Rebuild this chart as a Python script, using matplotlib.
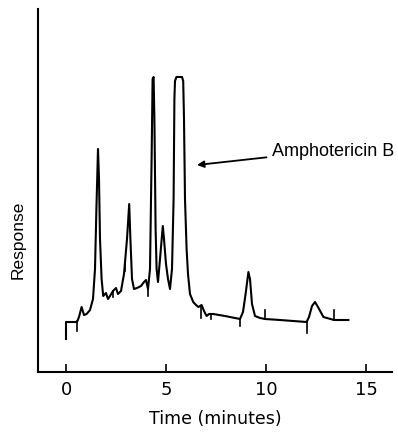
import numpy as np
import matplotlib
matplotlib.use("Agg")
import matplotlib.pyplot as plt

# chromatogram trace (time in minutes, response in arbitrary units)
times = [0.0, 0.0, 0.55, 0.65, 0.78, 0.90, 1.03, 1.20, 1.35, 1.45, 1.52, 1.60, 1.65,
         1.70, 1.78, 1.86, 2.00, 2.10, 2.20, 2.35, 2.50, 2.60, 2.75, 2.90, 3.05, 3.16,
         3.22, 3.30, 3.40, 3.55, 3.75, 3.90, 4.00, 4.10, 4.20, 4.28, 4.33, 4.38, 4.42,
         4.48, 4.53, 4.60, 4.70, 4.84, 4.90, 5.00, 5.10, 5.20, 5.30, 5.38, 5.42, 5.45,
         5.52, 5.80, 5.86, 5.90, 5.95, 6.03, 6.10, 6.20, 6.36, 6.50, 6.62, 6.78, 6.90,
         7.03, 7.15, 7.36, 7.95, 8.70, 8.85, 8.98, 9.12, 9.20, 9.30, 9.45, 9.70, 9.95,
         10.70, 12.03, 12.15, 12.30, 12.45, 12.60, 12.87, 13.40, 14.12]
response = [33, 50, 50, 55, 65, 57, 58, 62, 73, 103, 163, 223, 193,
            133, 93, 76, 79, 73, 76, 81, 84, 78, 81, 98, 133, 168,
            133, 93, 83, 84, 86, 90, 92, 83, 103, 213, 293, 295, 253,
            143, 103, 90, 113, 146, 133, 108, 93, 83, 103, 173, 273, 291,
            295, 295, 291, 253, 173, 123, 98, 78, 70, 67, 65, 67, 61,
            56, 58, 58, 56, 53, 60, 78, 100, 93, 68, 56, 54, 53,
            52, 50, 55, 66, 70, 65, 55, 52, 52]

# integrator event marks on the trace (time, length; negative = downward)
mark_times = [0.57, 2.37, 2.95, 4.10, 6.73, 7.23, 8.70, 9.95, 12.03, 13.40]
mark_lengths = [-10, -6, -9, -7, -12, -5, -7, 9, -11, 10]

xticks = [0, 5, 10, 15]

fig = plt.figure(figsize=(3.98, 4.39), dpi=100)
ax = fig.add_axes([38 / 398, 66 / 439, 354 / 398, 363 / 439])

ax.plot(times, response, color="black", linewidth=1.5, solid_joinstyle="round")

base = np.interp(mark_times, times, response)
for t, b, l in zip(mark_times, base, mark_lengths):
    ax.plot([t, t], [b, b + l], color="black", linewidth=1.2)

ax.set_xlim(-1.4, 16.3)
ax.set_ylim(0, 363)

ax.spines["top"].set_visible(False)
ax.spines["right"].set_visible(False)
ax.spines["left"].set_linewidth(1.5)
ax.spines["bottom"].set_linewidth(1.5)

ax.set_yticks([])
ax.set_xticks(xticks)
ax.set_xticklabels([str(v) for v in xticks], fontsize=13, family="DejaVu Sans")
ax.tick_params(axis="x", direction="in", length=6, width=1.2, pad=6)

ax.set_xlabel("Time (minutes)", fontsize=12.5, family="DejaVu Sans", labelpad=8)
ax.set_ylabel("Response", fontsize=12.5, family="Liberation Sans")
ax.yaxis.set_label_coords(-0.035, 0.366)

ax.annotate("Amphotericin B", xy=(6.55, 207), xytext=(10.3, 222),
            fontsize=13, family="Liberation Sans", va="center", ha="left",
            arrowprops=dict(arrowstyle="-|>", color="black", lw=1.3,
                            mutation_scale=10, shrinkA=2, shrinkB=0))

fig.savefig("out.png", dpi=100)
